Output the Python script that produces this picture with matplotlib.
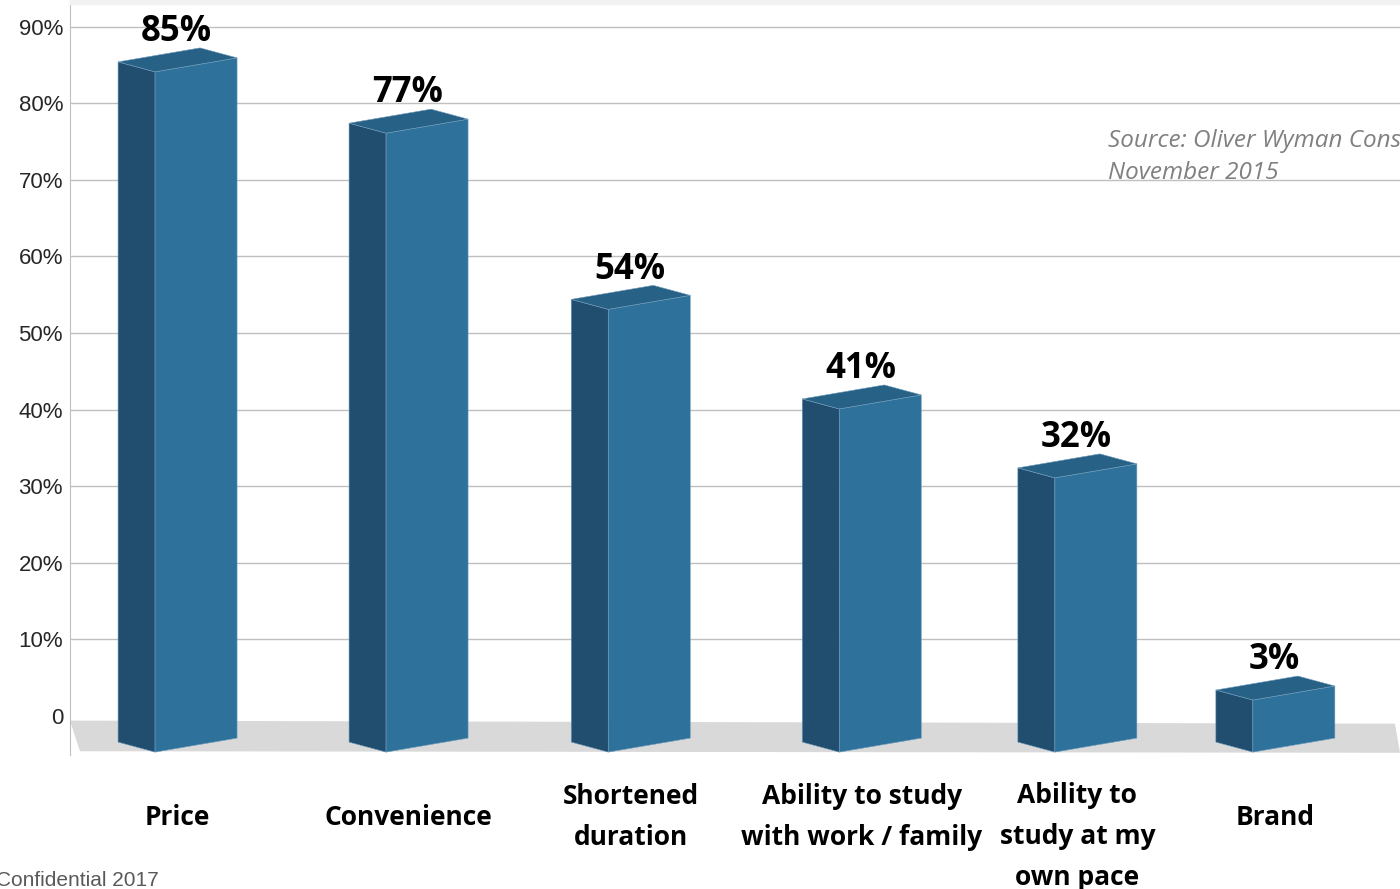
import numpy as np
import matplotlib.pyplot as plt
import matplotlib.transforms as mtransforms
from matplotlib.patches import Polygon, Rectangle

categories = [
    "Price",
    "Convenience",
    "Shortened\nduration",
    "Ability to study\nwith work / family",
    "Ability to\nstudy at my\nown pace",
    "Brand",
]
values = [85, 77, 54, 41, 32, 3]
value_labels = ["85%", "77%", "54%", "41%", "32%", "3%"]
ytick_values = [0, 10, 20, 30, 40, 50, 60, 70, 80, 90]
ytick_labels = ["0", "10%", "20%", "30%", "40%", "50%", "60%", "70%", "80%", "90%"]
source_lines = ["Source: Oliver Wyman Consumer Survey,", "November 2015"]
footer = "Confidential 2017"

# layout (pixel geometry of the original slide)
W, H = 1400, 889
PX_X = 220.0                 # px per category unit
PX_Y = 755 / 98.56           # px per percent
slot = [0, 1.05, 2.06, 3.11, 4.09, 4.99]   # front-face centres

front_w = 82 / PX_X
side_d = 37 / PX_X
depth_dy = 10 / PX_Y
slope = 14 / PX_Y
base = -3.8

c_front = "#2E729C"
c_side = "#214E6E"
c_top = "#276185"
c_edge = "#6F9CBC"

fig = plt.figure(figsize=(W / 100, H / 100), dpi=100)
fig.patches.append(Rectangle((70 / W, 1 - 4 / H), 1, 4 / H, transform=fig.transFigure,
                             color="#F2F2F2", zorder=0))

ax = fig.add_axes([70 / W, (H - 755) / H, 1330 / W, 755 / H])
ax.set_xlim(-0.573, -0.573 + 1330 / PX_X)
ax.set_ylim(-5.09, 93.47)
for s in ["top", "right", "bottom"]:
    ax.spines[s].set_visible(False)
ax.spines["left"].set_color("#BFBFBF")
ax.set_xticks([])
ax.set_yticks(ytick_values)
ax.set_yticklabels(ytick_labels, fontfamily="Liberation Sans", fontsize=16, color="#262626")
ax.tick_params(axis="y", length=0, pad=5)
ax.grid(axis="y", color="#BFBFBF", lw=1)
ax.set_axisbelow(True)
ax.yaxis.get_gridlines()[0].set_visible(False)

# floor
blend = mtransforms.blended_transform_factory(ax.transAxes, ax.transData)
ax.add_patch(Polygon([(0, -0.6), (0.9962, -1.0), (1.0, -4.8), (0.0075, -4.6)],
                     closed=True, transform=blend, facecolor="#D9D9D9",
                     edgecolor="none", zorder=1))

for c, v, lab, cat in zip(slot, values, value_labels, categories):
    xl, xr = c - front_w / 2, c + front_w / 2
    tl, tr = v - slope / 2, v + slope / 2
    bl, br = base - slope / 2, base + slope / 2
    side = [(xl - side_d, tl + depth_dy), (xl, tl), (xl, bl), (xl - side_d, bl + depth_dy)]
    front = [(xl, tl), (xr, tr), (xr, br), (xl, bl)]
    top = [(xl, tl), (xr, tr), (xr - side_d, tr + depth_dy), (xl - side_d, tl + depth_dy)]
    ax.add_patch(Polygon(side, closed=True, facecolor=c_side, edgecolor=c_edge, lw=0.4, zorder=3))
    ax.add_patch(Polygon(front, closed=True, facecolor=c_front, edgecolor=c_edge, lw=0.4, zorder=3))
    ax.add_patch(Polygon(top, closed=True, facecolor=c_top, edgecolor=c_edge, lw=0.4, zorder=3))

    ax.text(c - 0.09, v + 3.1, lab, ha="center", va="baseline", fontfamily="Open Sans",
            fontweight="bold", fontsize=25, color="black")

    n = cat.count("\n") + 1
    y_lab = (716 - 817 - max(0, n - 2) * 19.5) / PX_Y
    ax.text(c - side_d / 2, y_lab, cat, ha="center", va="center", fontfamily="Open Sans",
            fontweight="bold", fontsize=19, color="black", linespacing=1.65)

fig.text(1108 / W, 1 - 147 / H, source_lines[0], ha="left", va="baseline",
         fontfamily="Open Sans", fontstyle="italic", fontsize=17.5, color="#808080")
fig.text(1108 / W, 1 - 179 / H, source_lines[1], ha="left", va="baseline",
         fontfamily="Open Sans", fontstyle="italic", fontsize=17.5, color="#808080")
fig.text(-4 / W, 1 - 886 / H, footer, ha="left", va="baseline",
         fontfamily="Liberation Sans", fontsize=15, color="#595959")

fig.savefig("out.png", dpi=100)
